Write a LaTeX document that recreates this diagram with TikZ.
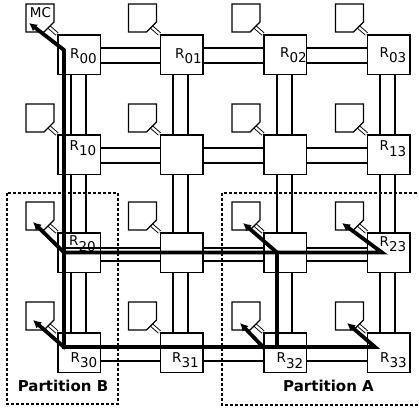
\documentclass[tikz,border=0pt]{standalone}
\usepackage{fontspec}
\setmainfont{DejaVu Sans}
\usetikzlibrary{arrows.meta,calc}
\newcommand\rsub[1]{\raisebox{-5.5pt}{#1}}
\begin{document}
\begin{tikzpicture}[x=1pt,y=-1pt,
  router/.style={draw, line width=1.8pt, fill=white, minimum width=42.5pt, minimum height=39.5pt, inner sep=0pt, anchor=north west},
  link/.style={line width=2pt},
  corelink/.style={line width=0.9pt, double=white, double distance=2.2pt},
  coretile/.style={draw, line width=1.2pt, fill=white},
  hot/.style={line width=3.8pt, line cap=rect, -{Latex[length=8pt,width=8.5pt]}},
  lbl/.style={inner sep=0pt, font=\fontsize{13.5}{14}\selectfont},
  part/.style={line width=1.3pt, dash pattern=on 3pt off 2pt},
  plbl/.style={inner sep=0pt, font=\fontsize{15}{16}\selectfont\bfseries}]
\useasboundingbox (0,0) rectangle (419,412);
\clip (0,0) rectangle (419,412);

\path
  (57,34) coordinate (p00) (159.5,34) coordinate (p01) (263,34) coordinate (p02) (366.5,34) coordinate (p03)
  (57,134) coordinate (p10) (159.5,134) coordinate (p11) (263,134) coordinate (p12) (366.5,134) coordinate (p13)
  (57,232) coordinate (p20) (159.5,232) coordinate (p21) (263,232) coordinate (p22) (366.5,232) coordinate (p23)
  (57,332) coordinate (p30) (159.5,332) coordinate (p31) (263,332) coordinate (p32) (366.5,332) coordinate (p33);

% router nodes, invisible first pass for names
\foreach \r in {0,1,2,3}{
  \foreach \c in {0,1,2,3}{
    \path (p\r\c) node[router, draw=none, fill=none] (r\r\c) {};
  }
}

% horizontal links
\foreach \r/\u/\l in {0/13.5/28.5,1/13.5/28.5,2/16/29,3/13.5/28.5}{
  \foreach \a/\b in {0/1,1/2,2/3}{
    \draw[link] ([yshift=-\u pt]r\r\a.north east) -- ([yshift=-\u pt]r\r\b.north west);
    \draw[link] ([yshift=-\l pt]r\r\a.north east) -- ([yshift=-\l pt]r\r\b.north west);
  }
}
% vertical links
\foreach \c in {0,1,2,3}{
  \foreach \a/\b in {0/1,1/2,2/3}{
    \draw[link] ([xshift=13.5pt]r\a\c.south west) -- ([xshift=13.5pt]r\b\c.north west);
    \draw[link] ([xshift=28.5pt]r\a\c.south west) -- ([xshift=28.5pt]r\b\c.north west);
  }
}

% cores and core links
\foreach \r in {0,1,2,3}{
  \foreach \c in {0,1,2,3}{
    \coordinate (k\r\c) at ($(r\r\c.north west)+(-8,-7)$);
    \draw[corelink] (k\r\c) -- (r\r\c.north west);
    \draw[coretile] ($(r\r\c.north west)+(-31,-30)$) -- ++(28,0) -- ++(0,18) -- ++(-10,10) -- ++(-18,0) -- cycle;
  }
}

% routers drawn
\foreach \r in {0,1,2,3}{
  \foreach \c in {0,1,2,3}{
    \path (p\r\c) node[router] {};
  }
}

% partitions
\draw[part] (7,193) rectangle (118,404);
\draw[part] (222,193) rectangle (430,405);
\node[plbl] (pb) at (63,386) {Partition B};
\node[plbl] (pa) at (328.5,386) {Partition A};

% highlighted paths
\coordinate (mctip) at (29,23);
\coordinate (mcbend) at (64,50);
\coordinate (j20) at (64,252.5);
\coordinate (j30) at (64,347);
\coordinate (j22) at (277,252.5);
\coordinate (j32) at (277,347);
\coordinate (j23) at (382,252.5);
\coordinate (j33) at (375,347);
\coordinate (j32b) at (263,347);
\coordinate (t20) at (33,222);
\coordinate (t22) at (243,223);
\coordinate (t23) at (342,223);
\coordinate (t30) at (33,320);
\coordinate (t32) at (240,323);
\coordinate (t33) at (347,323);

% thin line inside R20
\draw[link] (j20 |- 0,248) -- ([yshift=-16pt]r21.north west);

\draw[hot, {Latex[length=8pt,width=8.5pt]}-{Latex[length=8pt,width=8.5pt]}] (mctip) -- (mcbend) -- (j30) -- (j33) -- (t33);
\draw[hot] (j20) -- (j23) -- (t23);
\draw[hot] (j20) -- (t20);
\draw[hot] (j32) -- (j22) -- (t22);
\draw[hot] (j30) -- (t30);
\draw[hot] (j32b) -- (t32);

% labels
\node[lbl] (mc) at (40.5,12.5) {MC};
\node[lbl] (l00) at (83.5,56) {R\rsub{00}};
\node[lbl] (l01) at (188.5,56) {R\rsub{01}};
\node[lbl] (l02) at (293.5,55) {R\rsub{02}};
\node[lbl] (l03) at (393,55) {R\rsub{03}};
\node[lbl] (l10) at (83,148) {R\rsub{10}};
\node[lbl] (l13) at (393,148.5) {R\rsub{13}};
\node[lbl] (l20) at (82.5,243.5) {R\rsub{20}};
\node[lbl] (l23) at (393,244) {R\rsub{23}};
\node[lbl] (l30) at (84,360) {R\rsub{30}};
\node[lbl] (l31) at (185.5,360) {R\rsub{31}};
\node[lbl] (l32) at (290,360.5) {R\rsub{32}};
\node[lbl] (l33) at (393.5,360) {R\rsub{33}};
\end{tikzpicture}
\end{document}
